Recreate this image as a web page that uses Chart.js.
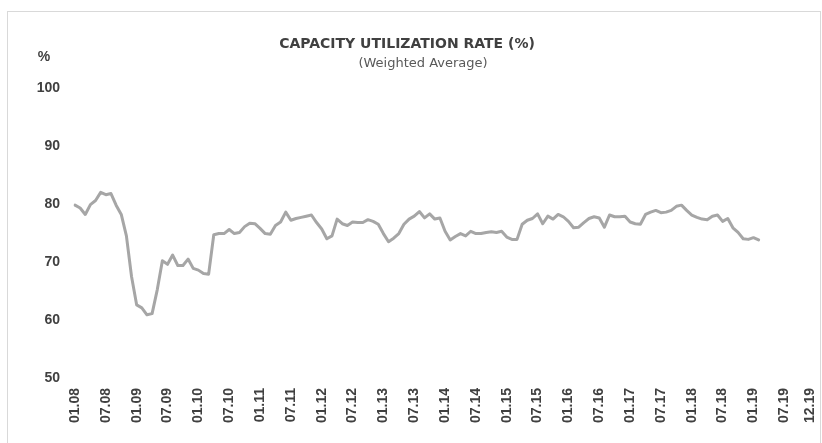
<!DOCTYPE html>
<html>
<head>
<meta charset="utf-8">
<script src="https://cdn.jsdelivr.net/npm/chart.js@4"></script>
<style>
  html, body { margin: 0; padding: 0; background: #ffffff; }
  #wrap { position: relative; width: 822px; height: 443px; overflow: hidden; }
  canvas { position: absolute; left: 0; top: 0; }
  #frame { position: absolute; left: 7px; top: 11px; width: 812px; height: 460px; border: 1px solid #d9d9d9; pointer-events: none; }
  .t { position: absolute; white-space: nowrap; transform: translate(-50%, -50%); }
  #title { left: 407px; top: 43px; font: bold 14px "DejaVu Sans", sans-serif; color: #404040; }
  #subtitle { left: 423px; top: 62px; font: 13px "DejaVu Sans", sans-serif; color: #595959; }
  #unit { left: 44px; top: 56px; font: bold 14px "Liberation Sans", Arial, sans-serif; color: #404040; }
</style>
</head>
<body>
<div id="wrap">
  <canvas id="c" width="822" height="443"></canvas>
  <div id="frame"></div>
  <div class="t" id="title">CAPACITY UTILIZATION RATE (%)</div>
  <div class="t" id="subtitle">(Weighted Average)</div>
  <div class="t" id="unit">%</div>
</div>
<script>
// Monthly categories 01.08 .. 12.19
const startYear = 8, endYear = 19;
const months = [];
for (let y = startYear; y <= endYear; y++) {
  for (let m = 1; m <= 12; m++) {
    months.push(String(m).padStart(2, '0') + '.' + String(y).padStart(2, '0'));
  }
}

// Tick labels shown on the x axis
const xTickLabels = ['01.08','07.08','01.09','07.09','01.10','07.10','01.11','07.11','01.12','07.12',
  '01.13','07.13','01.14','07.14','01.15','07.15','01.16','07.16','01.17','07.17','01.18','07.18',
  '01.19','07.19','12.19'];

// Capacity utilization rate (%), monthly from 01.08 to 02.19
const utilization = [
  79.8, 79.3, 78.2, 79.9, 80.6, 82.0, 81.6, 81.8, 79.8, 78.2, 74.5, 67.5,
  62.6, 62.1, 60.9, 61.1, 65.2, 70.2, 69.6, 71.2, 69.4, 69.4, 70.5, 68.9,
  68.6, 68.0, 67.9, 74.7, 74.9, 74.9, 75.6, 74.9, 75.1, 76.1, 76.7, 76.6,
  75.8, 74.9, 74.8, 76.3, 76.9, 78.6, 77.2, 77.5, 77.7, 77.9, 78.1, 76.8,
  75.7, 74.0, 74.5, 77.4, 76.6, 76.3, 76.9, 76.8, 76.8, 77.3, 77.0, 76.5,
  74.9, 73.5, 74.1, 74.9, 76.5, 77.4, 77.9, 78.7, 77.6, 78.3, 77.4, 77.6,
  75.3, 73.8, 74.4, 74.9, 74.5, 75.3, 74.9, 74.9, 75.1, 75.2, 75.1, 75.3,
  74.3, 73.9, 73.9, 76.5, 77.2, 77.5, 78.3, 76.6, 77.9, 77.4, 78.2, 77.8,
  77.0, 75.9, 76.0, 76.8, 77.5, 77.8, 77.6, 76.0, 78.1, 77.8, 77.8, 77.9,
  76.9, 76.6, 76.5, 78.2, 78.6, 78.9, 78.5, 78.6, 78.9, 79.6, 79.8, 78.9,
  78.1, 77.7, 77.4, 77.3, 77.9, 78.1, 77.0, 77.5, 75.9, 75.1, 74.0, 73.9,
  74.2, 73.8
];

// Y axis range
const yMin = 50, yMax = 100, yStep = 10;

const tickFontY = { family: '"Liberation Sans", Arial, sans-serif', size: 14, weight: 'bold' };
const tickFontX = { family: '"Liberation Sans", Arial, sans-serif', size: 14, weight: 'bold' };

new Chart(document.getElementById('c'), {
  type: 'line',
  data: {
    labels: months,
    datasets: [{
      data: utilization,
      borderColor: '#a6a6a6',
      borderWidth: 3,
      pointRadius: 0,
      tension: 0,
      borderJoinStyle: 'round',
      borderCapStyle: 'round',
      fill: false
    }]
  },
  options: {
    responsive: false,
    animation: false,
    devicePixelRatio: 1,
    layout: { padding: { top: 88, right: 0, bottom: 0, left: 0 } },
    plugins: { legend: { display: false }, tooltip: { enabled: false }, title: { display: false } },
    scales: {
      x: {
        type: 'category',
        offset: false,
        grid: { display: false, drawTicks: false },
        border: { display: false },
        ticks: {
          autoSkip: false,
          minRotation: 90,
          maxRotation: 90,
          padding: 10,
          color: '#404040',
          font: tickFontX,
          callback: function (v, i) { return xTickLabels.includes(months[i]) ? months[i] : ''; }
        },
        afterFit: function (s) { s.height = 65; s.paddingRight = 12; }
      },
      y: {
        min: yMin,
        max: yMax,
        grid: { display: false, drawTicks: false },
        border: { display: false },
        ticks: { stepSize: yStep, padding: 15, color: '#404040', font: tickFontY },
        afterFit: function (s) { s.width = 75; }
      }
    }
  }
});
</script>
</body>
</html>
